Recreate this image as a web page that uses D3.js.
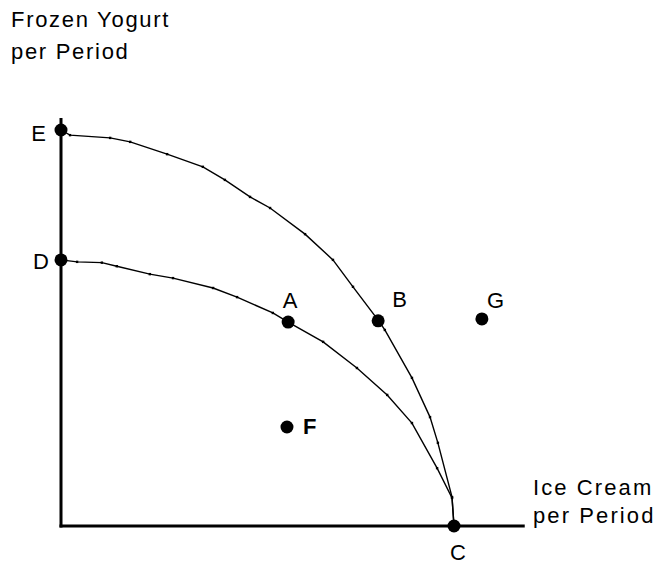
<!DOCTYPE html>
<html>
<head>
<meta charset="utf-8">
<script src="https://cdn.jsdelivr.net/npm/d3@7"></script>
<style>
  body { margin: 0; background: #fff; }
  svg text { font-family: "Liberation Sans", Arial, sans-serif; fill: #000; }
</style>
</head>
<body>
<div class="wrapper"></div>
<script>
// production possibilities frontiers (ice cream on x, frozen yogurt on y)
var outerX = [0, 2.3, 12.5, 17.6, 27.0, 36.1, 41.7, 48.1, 53.2, 62.1, 69.2, 74.3, 80.7, 82.4, 89.3, 93.9, 95.9, 99.5, 100];
var outerY = [100, 98.7, 98.0, 97.0, 93.9, 90.7, 87.4, 83.1, 80.3, 73.7, 67.2, 60.4, 52.0, 49.5, 37.4, 27.5, 21.0, 7.3, 0];
var innerX = [0, 4.1, 10.4, 14.2, 22.6, 28.5, 38.7, 44.8, 53.9, 57.8, 66.7, 75.3, 83.0, 89.3, 95.7, 99.5, 100];
var innerY = [67.2, 66.7, 66.5, 65.6, 63.6, 62.6, 60.1, 57.8, 53.8, 51.5, 46.5, 39.9, 33.1, 26.0, 14.6, 7.1, 0];

var pointNames = ["E", "D", "A", "B", "G", "F", "C"];
var pointX = [0, 0, 57.8, 80.7, 107.1, 57.5, 100];
var pointY = [100, 67.2, 51.5, 51.8, 52.3, 25.0, 0];

var yTitle = ["Frozen Yogurt", "per Period"];
var xTitle = ["Ice Cream", "per Period"];

var width = 660,
  height = 566,
  margin = {top: 130, right: 206, bottom: 40, left: 61};

var svg = d3.select(".wrapper").append("svg")
  .attr("width", width)
  .attr("height", height);

var x = d3.scaleLinear().domain([0, 100]).range([margin.left, width - margin.right]);
var y = d3.scaleLinear().domain([0, 100]).range([height - margin.bottom, margin.top]);

// axes
svg.append("line")
  .attr("x1", x(0)).attr("x2", x(0))
  .attr("y1", y(0) + 1.5).attr("y2", y(103))
  .attr("stroke", "#000").attr("stroke-width", 3);
svg.append("line")
  .attr("x1", x(0) - 1.5).attr("x2", x(118))
  .attr("y1", y(0)).attr("y2", y(0))
  .attr("stroke", "#000").attr("stroke-width", 3);

var line = d3.line()
  .x(function(d) { return x(d[0]); })
  .y(function(d) { return y(d[1]); });

var curves = [d3.zip(outerX, outerY), d3.zip(innerX, innerY)];

svg.selectAll("path.ppf")
  .data(curves)
  .enter().append("path")
    .attr("class", "ppf")
    .attr("d", line)
    .attr("fill", "none")
    .attr("stroke", "#000")
    .attr("stroke-width", 1.4);

// little joint marks along the curves
svg.selectAll("g.joints")
  .data(curves)
  .enter().append("g")
    .attr("class", "joints")
  .selectAll("rect")
  .data(function(d) { return d.slice(1, -1); })
  .enter().append("rect")
    .attr("x", function(d) { return x(d[0]) - 1.2; })
    .attr("y", function(d) { return y(d[1]) - 1.2; })
    .attr("width", 2.4)
    .attr("height", 2.4)
    .attr("fill", "#000");

var points = pointNames.map(function(n, i) { return {name: n, x: pointX[i], y: pointY[i]}; });

svg.selectAll("circle.pt")
  .data(points)
  .enter().append("circle")
    .attr("class", "pt")
    .attr("cx", function(d) { return x(d.x); })
    .attr("cy", function(d) { return y(d.y); })
    .attr("r", 6.5)
    .attr("fill", "#000");

// label placement relative to each dot
var labelStyle = {
  E: {dx: -15, dy: 11, anchor: "end"},
  D: {dx: -12, dy: 9, anchor: "end"},
  A: {dx: 2, dy: -14, anchor: "middle"},
  B: {dx: 14, dy: -14, anchor: "start"},
  G: {dx: 5, dy: -11, anchor: "start"},
  F: {dx: 16, dy: 7, anchor: "start", weight: "bold"},
  C: {dx: 4, dy: 34, anchor: "middle"}
};

svg.selectAll("text.lbl")
  .data(points)
  .enter().append("text")
    .attr("class", "lbl")
    .attr("x", function(d) { return x(d.x) + labelStyle[d.name].dx; })
    .attr("y", function(d) { return y(d.y) + labelStyle[d.name].dy; })
    .attr("text-anchor", function(d) { return labelStyle[d.name].anchor; })
    .attr("font-weight", function(d) { return labelStyle[d.name].weight || "normal"; })
    .attr("font-size", 22)
    .text(function(d) { return d.name; });

// axis titles
svg.append("g")
  .selectAll("text")
  .data(yTitle)
  .enter().append("text")
    .attr("x", 11)
    .attr("y", function(d, i) { return 27 + i * 32; })
    .attr("font-size", 22)
    .attr("letter-spacing", 1.7)
    .text(function(d) { return d; });

svg.append("g")
  .selectAll("text")
  .data(xTitle)
  .enter().append("text")
    .attr("x", 533)
    .attr("y", function(d, i) { return 495 + i * 28; })
    .attr("font-size", 22)
    .attr("letter-spacing", 2.1)
    .text(function(d) { return d; });
</script>
</body>
</html>
